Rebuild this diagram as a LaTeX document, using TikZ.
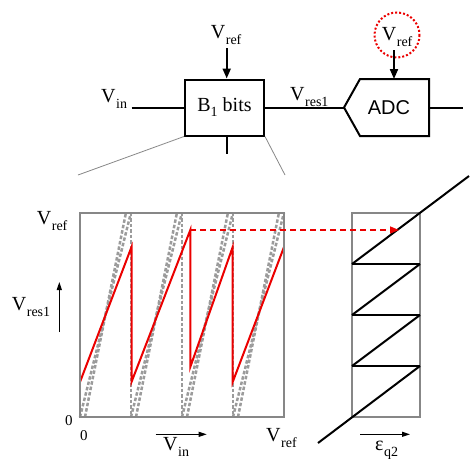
\documentclass[tikz,border=0pt]{standalone}
\usepackage{fontspec}
\setmainfont{Liberation Serif}
\newfontfamily\adcfont{Liberation Sans}
\usetikzlibrary{arrows.meta}
\definecolor{boxgray}{RGB}{135,135,135}
\definecolor{dotgray}{RGB}{155,155,155}
\definecolor{plotred}{RGB}{235,0,0}
\newcommand{\Vsub}[2]{#1\kern0.5pt\raisebox{-6pt}{\fontsize{14}{16}\selectfont #2}}
\begin{document}
\begin{tikzpicture}[x=1pt,y=-1pt,
  lbl/.style={font=\fontsize{20}{24}\selectfont, inner sep=0pt, anchor=base west},
  zerolbl/.style={font=\fontsize{15}{18}\selectfont, inner sep=0pt, anchor=base west},
  blk/.style={line width=2pt, black},
  bigarrow/.style={blk, -{Triangle[length=10pt,width=8pt]}},
  smallarrow/.style={line width=1pt, black, -{Triangle[length=8pt,width=5pt]}},
  fanline/.style={line width=0.8pt, boxgray},
  frame/.style={line width=2pt, boxgray},
  idealdot/.style={line width=2.5pt, dotgray, dash pattern=on 3.5pt off 2pt},
  redline/.style={line width=2pt, plotred, line join=miter},
  reddash/.style={line width=1.5pt, plotred, dash pattern=on 6pt off 4pt, -{Triangle[length=9pt,width=7pt]}},
  stagebox/.style={draw, line width=2pt, minimum width=79pt, minimum height=56pt, inner sep=0pt, font=\fontsize{20}{24}\selectfont}]
\useasboundingbox (0,0) rectangle (470,458);

% ---------- top block diagram ----------
\node[stagebox] (B1) at (224.5,107.5) {B\raisebox{-5pt}{\fontsize{14}{16}\selectfont 1} bits};
\node[lbl] (vref1) at (210.7,38.3) {\Vsub{V}{ref}};
\coordinate (a1s) at (226.7,48);
\draw[bigarrow] (a1s) -- (a1s |- B1.north);
\node[lbl] (vin) at (101,102) {\Vsub{V}{in}};
\coordinate (vinend) at (131.5,107.5);
\draw[blk] (vinend) -- (B1.west);
\node[lbl] (vres) at (290,100) {\Vsub{V}{res1}};
\coordinate (adcpt) at (344,107.5);
\draw[blk] (B1.east) -- (adcpt);
\draw[blk, line join=miter] (adcpt) -- (360,79) -- (429,79) -- (429,136) -- (360,136) -- cycle;
\node[font=\adcfont\fontsize{20}{24}\selectfont, inner sep=0pt] (adc) at (389,107.5) {ADC};
\coordinate (adcout) at (429,107.5);
\coordinate (outend) at (463,107.5);
\draw[blk] (adcout) -- (outend);
\node[lbl] (vref2) at (381.7,40.5) {\Vsub{V}{ref}};
\draw[plotred, line width=2pt, dotted] (397,35) circle (22.5);
\coordinate (a2s) at (394,50);
\coordinate (a2e) at (394,79);
\draw[bigarrow] (a2s) -- (a2e);
\coordinate (stub) at (226.7,154);
\draw[blk] (B1.south -| stub) -- (stub);
\coordinate (fanL) at (78,175);
\coordinate (fanR) at (285,175);
\draw[fanline] (B1.south west) -- (fanL);
\draw[fanline] (B1.south east) -- (fanR);

% ---------- residue plot ----------
\foreach \i in {0,1,2,3} {
  \pgfmathsetmacro{\xa}{80+51*\i}
  \pgfmathsetmacro{\xb}{131+51*\i}
  \draw[idealdot] (\xa,417) -- (\xb,212.5);
  \draw[idealdot] (\xa+5,417) -- (\xb-5,212.5);
}
\foreach \x in {131,182,233} {
  \draw[idealdot] (\x,212.5) -- (\x,417);
}
\draw[redline] (80,382) -- (131.5,247) -- (131.5,382) -- (190.3,230) -- (190.3,367)
  -- (232.7,247) -- (232.7,382) -- (284,247);
\draw[frame] (80,212.5) rectangle (284,417);
\coordinate (rdstart) at (190.3,230);
\coordinate (rdend) at (399,230);

\node[lbl] (vrefy) at (36.7,224) {\Vsub{V}{ref}};
\node[zerolbl] (zy) at (65,425) {0};
\node[zerolbl] (zx) at (80,440) {0};
\node[lbl] (vrefx) at (266,441.5) {\Vsub{V}{ref}};
\node[lbl] (vinx) at (163,450) {\Vsub{V}{in}};
\coordinate (vinas) at (155.7,434.3);
\coordinate (vinae) at (206.7,434.3);
\draw[smallarrow] (vinas) -- (vinae);
\node[lbl] (vresy) at (11.7,310) {\Vsub{V}{res1}};
\coordinate (vrsa) at (59.3,332);
\coordinate (vrea) at (59.3,282);
\draw[smallarrow] (vrsa) -- (vrea);

% ---------- quantizer plot ----------
\draw[frame] (352,212.5) rectangle (420,417.3);
\foreach \y in {264,315,366} {
  \draw[blk] (352,\y) -- (420,\y);
}
\draw[blk] (318,443) -- (420,366);
\draw[blk] (352,366) -- (420,315);
\draw[blk] (352,315) -- (420,264);
\draw[blk] (352,264) -- (469,176);
\draw[reddash] (rdstart) -- (rdend);
\coordinate (eas) at (360,434.3);
\coordinate (eae) at (410,434.3);
\draw[smallarrow] (eas) -- (eae);
\node[lbl] (eps) at (375,450) {\Vsub{ε}{q2}};
\end{tikzpicture}
\end{document}
